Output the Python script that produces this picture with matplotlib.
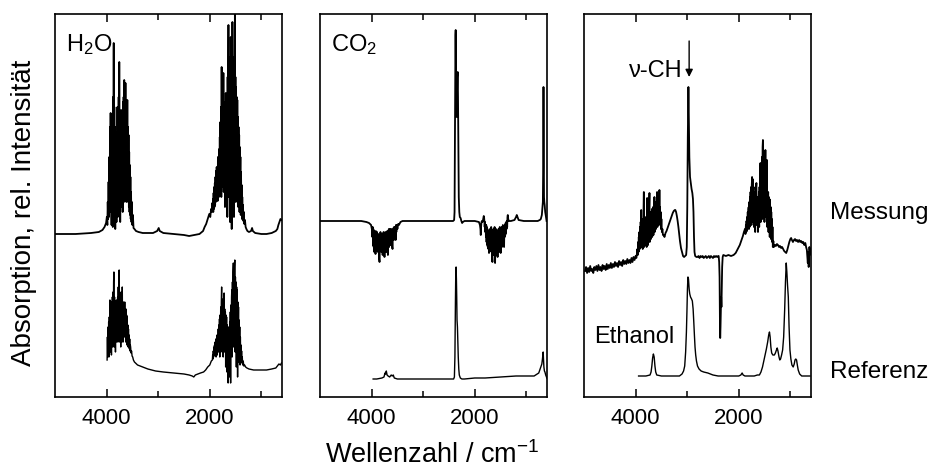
import numpy as np
import matplotlib.pyplot as plt

plt.rcParams['font.family'] = ['Liberation Sans', 'DejaVu Sans']
plt.rcParams['mathtext.fontset'] = 'custom'
plt.rcParams['mathtext.rm'] = 'Liberation Sans'
plt.rcParams['mathtext.it'] = 'Liberation Sans'

# spectra: (wavenumber / cm-1, signal in arbitrary units)
h2o_mess = [(5000,163),(4600,163),(4300,164),(4150,165),(4080,167),(4040,170),(4010,174),(3995,180),(3985,172),(3978,195),(3970,178),(3962,215),(3955,180),(3948,240),(3941,185),(3934,270),(3928,190),(3922,284),(3916,200),(3910,255),(3904,172),(3898,265),(3892,200),(3886,245),(3880,170),(3874,300),(3868,210),(3862,354),(3856,175),(3850,290),(3844,200),(3838,270),(3832,168),(3826,250),(3820,205),(3814,240),(3808,175),(3802,265),(3796,210),(3790,290),(3784,180),(3778,280),(3772,215),(3766,300),(3760,190),(3754,335),(3748,205),(3742,270),(3736,175),(3730,280),(3724,215),(3718,287),(3712,190),(3706,270),(3700,220),(3694,280),(3688,185),(3682,295),(3676,220),(3670,300),(3664,195),(3658,317),(3652,215),(3646,290),(3640,200),(3634,314),(3628,210),(3622,285),(3616,195),(3610,290),(3604,210),(3598,297),(3592,200),(3586,270),(3580,195),(3574,262),(3568,190),(3562,245),(3556,185),(3550,232),(3544,182),(3538,220),(3532,178),(3526,205),(3518,175),(3510,195),(3500,172),(3490,182),(3478,169),(3460,168),(3430,166),(3380,165),(3300,164),(3100,164),(3020,166),(2990,169),(2970,166),(2900,164),(2700,163),(2500,162),(2400,161),(2300,162),(2200,163),(2130,166),(2100,170),(2070,173),(2040,178),(2010,183),(1990,180),(1975,188),(1960,185),(1950,194),
            (1944,186),(1938,198),(1932,185),(1926,204),(1920,188),(1914,210),(1908,190),(1902,214),(1896,192),(1890,220),(1884,195),(1878,226),(1872,198),(1866,230),(1860,200),(1854,228),(1848,196),(1842,240),(1836,205),(1830,235),(1824,200),(1818,248),(1812,210),(1806,260),(1800,205),(1794,275),(1788,215),(1782,290),(1776,200),(1770,330),(1764,215),(1758,300),(1752,210),(1746,310),(1740,220),(1736,324),(1730,205),(1724,290),(1718,225),(1712,280),(1706,190),(1700,295),(1694,230),(1690,304),(1684,200),(1678,270),(1672,235),(1666,300),(1660,180),(1654,320),(1648,240),(1642,340),(1638,372),(1632,200),(1626,300),(1620,240),(1614,330),(1608,175),(1602,340),(1596,250),(1593,360),(1587,200),(1581,330),(1575,168),(1569,350),(1563,245),(1561,375),(1555,215),(1549,330),(1543,250),(1537,340),(1531,180),(1525,320),(1519,240),(1513,390),(1508,230),(1502,320),(1496,195),(1490,310),(1484,235),(1478,300),(1472,200),(1466,297),(1460,225),(1454,280),(1448,190),(1442,270),(1436,215),(1430,262),(1424,185),(1418,250),(1412,210),(1406,240),(1400,182),(1394,225),(1388,195),(1382,212),(1376,178),(1370,200),(1364,185),(1356,192),(1348,176),(1340,185),(1330,173),(1318,177),(1305,170),(1290,168),(1270,166),(1240,165),(1200,166),(1180,169),(1165,166),(1120,164),(1000,163),(900,163),(800,164),(720,166),(690,168),(670,172),(650,175),(630,178),(610,177)]

h2o_ref = [(3990,37),(3984,60),(3978,40),(3972,70),(3966,45),(3960,75),(3954,40),(3948,80),(3942,50),(3936,97),(3930,45),(3924,85),(3918,55),(3912,90),(3906,42),(3900,95),(3894,60),(3888,100),(3882,50),(3876,105),(3870,55),(3864,115),(3858,125),(3852,50),(3846,100),(3840,60),(3834,95),(3828,45),(3822,88),(3816,60),(3810,97),(3804,55),(3798,90),(3792,62),(3786,100),(3780,55),(3774,110),(3768,65),(3762,115),(3756,127),(3750,55),(3744,100),(3738,62),(3732,95),(3726,50),(3720,105),(3714,65),(3708,98),(3702,55),(3696,110),(3690,68),(3684,90),(3678,55),(3672,95),(3666,65),(3660,88),(3654,60),(3648,95),(3642,62),(3636,85),(3630,55),(3624,88),(3618,60),(3612,82),(3606,52),(3600,80),(3594,58),(3588,72),(3582,50),(3576,68),(3570,52),(3564,62),(3558,48),(3552,58),(3546,46),(3540,52),(3534,50),(3526,44),(3516,46),(3506,41),(3494,40),(3480,37),(3460,35),(3400,32),(3300,30),(3200,28),(3050,26),(2900,25),(2700,24),(2500,23),(2400,22),(2340,21),(2310,20),(2280,22),(2230,23),(2180,24),(2120,25),(2080,27),(2040,30),(2000,32),(1970,36),(1950,37),
           (1944,42),(1938,38),(1932,46),(1926,40),(1920,50),(1914,42),(1908,52),(1902,44),(1896,55),(1890,45),(1884,58),(1878,40),(1872,55),(1866,48),(1860,62),(1854,42),(1848,53),(1842,50),(1836,68),(1830,45),(1824,72),(1818,55),(1812,78),(1806,40),(1800,82),(1794,60),(1788,90),(1782,45),(1776,95),(1770,110),(1764,50),(1758,90),(1752,65),(1746,98),(1740,40),(1734,95),(1728,70),(1722,104),(1716,45),(1710,88),(1704,60),(1698,85),(1692,30),(1686,82),(1680,55),(1674,80),(1668,25),(1662,72),(1656,48),(1650,68),(1644,14),(1638,70),(1632,50),(1626,60),(1620,20),(1614,75),(1608,55),(1602,85),(1596,14),(1590,92),(1584,60),(1578,100),(1573,107),(1567,40),(1561,115),(1555,70),(1549,125),(1543,134),(1537,50),(1531,120),(1525,75),(1519,130),(1515,137),(1509,45),(1503,120),(1497,70),(1491,115),(1485,30),(1479,110),(1473,65),(1467,107),(1461,20),(1455,95),(1449,60),(1443,90),(1437,35),(1431,77),(1425,50),(1419,70),(1413,32),(1407,60),(1401,42),(1395,52),(1389,36),(1383,46),(1377,34),(1370,40),(1362,32),(1352,36),(1340,31),(1325,32),(1305,30),(1280,29),(1240,28),(1150,27),(1000,27),(900,27),(800,28),(720,29),(690,31),(660,33),(630,32),(610,34)]

co2_mess = [(5000,176),(4600,176),(4200,176),(4100,175),(4050,174),(4010,172),(3995,168),(3985,160),(3978,170),(3972,152),(3966,168),(3960,150),(3954,166),(3948,145),(3942,165),(3936,148),(3930,164),(3924,143),(3918,166),(3912,150),(3906,163),(3900,146),(3894,165),(3888,152),(3882,162),(3876,145),(3870,163),(3864,150),(3858,160),(3852,138),(3846,135),(3840,162),(3834,150),(3828,165),(3822,148),(3816,160),(3810,145),(3804,163),(3798,150),(3792,161),(3786,142),(3780,162),(3774,148),(3768,165),(3762,147),(3756,160),(3750,140),(3744,163),(3738,152),(3732,165),(3726,150),(3720,160),(3714,145),(3708,163),(3702,152),(3696,166),(3690,148),(3684,142),(3678,165),(3672,152),(3666,168),(3660,150),(3654,164),(3648,155),(3642,168),(3636,152),(3630,165),(3624,155),(3618,168),(3612,152),(3606,166),(3600,150),(3594,148),(3588,167),(3582,158),(3576,169),(3570,157),(3564,170),(3558,160),(3552,170),(3546,162),(3540,168),(3534,157),(3528,172),(3520,165),(3510,172),(3500,168),(3485,173),(3470,172),(3440,175),(3400,176),(3000,176),(2600,176),(2420,176),(2400,177),(2392,185),(2386,250),(2380,330),(2374,362),(2370,367),(2365,330),(2360,285),(2352,280),(2345,300),(2338,320),(2331,325),(2325,300),(2318,250),(2310,200),(2300,185),(2290,180),(2275,179),(2260,176),(2245,174),(2230,175),(2200,176),(2000,176),(1920,175),(1900,172),(1890,168),(1884,162),(1878,170),(1870,175),(1860,176),
            (1852,175),(1840,177),(1832,179),(1826,181),(1820,180),(1814,176),(1808,170),(1802,175),(1796,165),(1790,172),(1784,160),(1778,172),(1772,155),(1766,170),(1760,152),(1754,168),(1748,150),(1742,166),(1736,148),(1730,165),(1724,144),(1718,166),(1712,150),(1706,168),(1700,146),(1694,165),(1688,152),(1682,170),(1676,145),(1670,164),(1664,140),(1658,135),(1652,162),(1646,148),(1640,168),(1634,142),(1628,165),(1622,150),(1616,170),(1610,140),(1606,134),(1600,162),(1594,145),(1588,168),(1582,148),(1576,165),(1570,142),(1564,160),(1558,140),(1552,166),(1546,150),(1540,168),(1534,145),(1528,165),(1522,152),(1516,170),(1510,148),(1504,166),(1498,144),(1492,168),(1486,155),(1480,170),(1474,150),(1468,167),(1462,156),(1456,172),(1450,152),(1444,168),(1438,158),(1432,150),(1426,170),(1420,160),(1414,172),(1408,162),(1402,174),(1396,164),(1390,175),(1384,168),(1378,176),(1372,170),(1366,180),(1360,182),(1352,178),(1340,176),(1300,176),(1230,177),(1200,180),(1186,182),(1172,180),(1150,177),(1050,176),(900,176),(780,176),(740,177),(720,178),(700,182),(690,188),(680,195),(674,230),(668,310),(663,250),(658,200),(652,195),(645,192),(635,185),(625,182),(615,178),(608,176)]

co2_ref = [(3970,18),(3900,18),(3800,19),(3760,20),(3740,24),(3728,23),(3715,26),(3700,22),(3680,21),(3650,20),(3620,22),(3600,21),(3580,22),(3560,19),(3500,18),(3300,18),(3000,18),(2700,18),(2450,18),(2410,18),(2395,20),(2385,40),(2375,95),(2368,125),(2362,130),(2356,118),(2350,100),(2344,77),(2336,70),(2328,55),(2320,40),(2310,28),(2300,22),(2280,19),(2250,18),(2200,18),(2000,19),(1800,19),(1500,20),(1200,21),(1000,21),(850,21),(760,24),(720,30),(700,33),(688,38),(680,42),(674,45),(668,38),(660,30),(650,26),(640,25),(625,22),(610,20),(605,19)]

etoh_mess = [(4980,126),(4960,130),(4940,124),(4920,129),(4900,125),(4880,131),(4860,126),(4840,128),(4820,124),(4800,130),(4780,127),(4760,131),(4740,126),(4720,132),(4700,127),(4680,130),(4660,126),(4640,132),(4620,128),(4600,131),(4580,127),(4560,133),(4540,128),(4520,132),(4500,129),(4480,134),(4460,129),(4440,133),(4420,130),(4400,135),(4380,131),(4360,134),(4340,130),(4320,136),(4300,132),(4280,135),(4260,131),(4240,137),(4220,133),(4200,136),(4180,133),(4160,138),(4140,134),(4120,137),(4100,134),(4080,139),(4060,135),(4040,140),(4020,137),(4000,141),(3985,139),(3975,143),
             (3965,148),(3958,142),(3950,155),(3944,145),(3938,160),(3932,146),(3926,165),(3920,148),(3914,170),(3908,150),(3902,175),(3896,160),(3891,187),(3885,150),(3880,172),(3874,155),(3868,178),(3862,148),(3856,170),(3850,158),(3845,190),(3840,205),(3834,150),(3828,175),(3822,160),(3816,180),(3810,152),(3804,172),(3798,160),(3792,178),(3786,150),(3780,182),(3776,199),(3770,158),(3764,175),(3758,152),(3752,180),(3746,160),(3740,185),(3735,195),(3731,204),(3726,155),(3720,178),(3714,162),(3708,185),(3702,158),(3696,180),(3690,165),(3684,188),(3678,160),(3672,182),(3666,168),(3660,190),(3654,162),(3648,185),(3642,170),(3635,200),(3629,165),(3623,188),(3617,172),(3611,195),(3605,168),(3599,190),(3593,175),(3587,198),(3583,205),(3577,170),(3571,192),(3565,176),(3559,196),(3553,172),(3547,198),(3542,185),(3538,207),(3532,175),(3526,190),(3520,172),(3514,185),(3508,168),(3500,178),(3490,165),(3480,168),(3470,162),(3455,162),(3440,160),(3420,164),(3400,166),(3380,169),(3360,172),(3340,175),(3320,178),(3300,181),(3280,184),(3260,186),(3240,187),(3230,187),(3215,185),(3200,181),(3185,176),(3170,170),(3155,163),(3140,156),(3120,149),(3100,145),(3080,141),(3060,140),(3040,141),(3020,142),(3008,150),(2998,190),(2988,260),(2976,310),(2968,280),(2958,240),(2945,220),(2930,214),(2915,208),(2900,204),(2888,198),(2878,185),(2868,160),(2858,145),(2845,141),(2820,140),(2800,140),(2780,141),(2760,139),(2740,141),(2720,140),(2700,141),(2680,139),(2660,140),(2640,141),(2620,139),(2600,140),(2580,141),(2560,139),(2540,141),(2520,140),(2500,139),(2480,141),(2460,140),(2440,141),(2420,140),(2400,141),(2390,141),(2380,135),(2372,120),(2366,80),(2360,59),(2354,70),(2348,85),(2342,100),(2336,90),(2330,110),(2322,130),(2312,140),(2300,142),(2250,141),(2200,142),(2150,141),(2100,142),(2080,143),(2060,144),(2040,146),(2020,148),(2000,150),(1980,152),(1960,155),(1940,158),(1920,161),(1900,165),
             (1880,168),(1870,163),(1862,172),(1856,165),(1850,176),(1844,166),(1838,180),(1832,168),(1826,185),(1820,170),(1814,188),(1808,190),(1802,168),(1796,195),(1790,170),(1784,200),(1778,172),(1772,205),(1766,175),(1760,210),(1754,172),(1748,212),(1742,220),(1736,175),(1730,218),(1724,180),(1718,205),(1712,210),(1706,170),(1700,200),(1694,178),(1688,205),(1682,165),(1676,200),(1670,180),(1664,210),(1658,214),(1652,172),(1646,195),(1640,178),(1634,200),(1628,165),(1622,195),(1616,185),(1610,205),(1604,170),(1598,210),(1592,190),(1586,225),(1580,234),(1574,175),(1568,230),(1562,224),(1556,195),(1550,240),(1544,178),(1538,250),(1532,257),(1526,185),(1520,240),(1514,200),(1508,245),(1502,175),(1496,240),(1490,205),(1484,247),(1478,180),(1472,235),(1466,200),(1460,230),(1454,237),(1448,170),(1442,203),(1436,185),(1430,205),(1424,165),(1418,200),(1412,180),(1406,198),(1400,160),(1394,197),(1388,175),(1382,190),(1376,158),(1370,185),(1364,162),(1358,178),(1352,155),(1346,170),(1340,150),(1330,156),(1320,150),(1300,152),(1280,151),(1260,153),(1240,152),(1220,150),(1200,151),(1180,149),(1160,150),(1140,148),(1120,146),(1100,145),(1080,144),(1060,147),(1040,151),(1020,155),(1000,158),(985,159),(970,157),(950,155),(930,157),(910,158),(890,156),(870,157),(850,155),(830,157),(810,155),(790,156),(770,154),(750,155),(730,152),(710,154),(695,150),(680,147),(670,140),(662,134),(655,145),(645,130),(638,140),(630,150),(620,142),(610,148)]

etoh_ref = [(3942,21),(3800,21),(3720,22),(3700,25),(3685,31),(3670,39),(3655,43),(3640,40),(3625,31),(3610,25),(3590,22),(3500,21),(3300,21),(3150,21),(3100,23),(3070,26),(3048,31),(3030,45),(3015,65),(3005,85),(2995,108),(2985,120),(2975,118),(2962,108),(2950,103),(2935,100),(2915,98),(2900,96),(2885,88),(2872,75),(2860,62),(2848,50),(2835,42),(2820,36),(2800,31),(2770,28),(2730,26),(2680,25),(2600,24),(2500,22),(2400,21),(2200,21),(2000,21),(1960,22),(1935,24),(1915,22),(1880,21),(1800,21),(1700,21),(1640,22),
            (1600,22),(1570,25),(1540,30),(1515,36),(1490,42),(1465,48),(1440,55),(1420,62),(1405,65),(1392,60),(1378,50),(1362,44),(1340,42),(1310,42),(1290,44),(1270,47),(1255,49),(1240,46),(1220,40),(1205,37),(1190,38),(1170,42),(1150,47),(1130,60),(1110,88),(1095,115),(1080,134),(1068,125),(1055,112),(1040,100),(1025,70),(1008,47),(990,38),(970,32),(945,30),(925,33),(910,37),(895,38),(880,37),(865,32),(848,27),(820,23),(780,21),(700,21),(620,21)]

panels = [('H$_2$O', h2o_mess, h2o_ref),
          ('CO$_2$', co2_mess, co2_ref),
          ('', etoh_mess, etoh_ref)]

fig = plt.figure(figsize=(9.3, 4.72), dpi=100)
lefts = [55, 320, 584]
axs = []
for left, (name, mess, ref) in zip(lefts, panels):
    ax = fig.add_axes([left/930, 75/472, 227/930, 383/472])
    m = np.array(mess)
    r = np.array(ref)
    ax.plot(m[:, 0], m[:, 1], color='black', lw=1.3)
    ax.plot(r[:, 0], r[:, 1], color='black', lw=1.0)
    ax.set_xlim(5000, 600)
    ax.set_ylim(0, 383)
    ax.set_xticks([4000, 2000])
    ax.set_xticks([3000, 1000], minor=True)
    ax.set_yticks([])
    ax.tick_params(axis='x', which='both', direction='in', top=True, labelsize=16, width=1.1)
    ax.tick_params(axis='x', which='major', length=6, pad=8)
    ax.tick_params(axis='x', which='minor', length=4)
    for s in ax.spines.values():
        s.set_linewidth(1.2)
    if name:
        ax.text(4780, 352, name, fontsize=17, va='center', ha='left')
    axs.append(ax)

# annotations in the ethanol panel
ax3 = axs[2]
ax3.text(4800, 60, 'Ethanol', fontsize=17, va='center', ha='left')
ax3.text(3090, 326, 'ν-CH', fontsize=17, va='center', ha='right')
ax3.annotate('', xy=(2962, 320), xytext=(2962, 356),
             arrowprops=dict(arrowstyle='-|>', color='black', lw=1.0,
                             mutation_scale=11, shrinkA=0, shrinkB=0))

fig.text(830/930, 1 - 213/472, 'Messung', fontsize=17.5, va='center', ha='left')
fig.text(830/930, 1 - 372/472, 'Referenz', fontsize=17.5, va='center', ha='left')
fig.text(24/930, 1 - 213/472, 'Absorption, rel. Intensität', fontsize=20,
         rotation=90, va='center', ha='center')
fig.text(432/930, 9/472, 'Wellenzahl / cm$^{-1}$', fontsize=19.5,
         va='baseline', ha='center')

fig.savefig('out.png', dpi=100)
